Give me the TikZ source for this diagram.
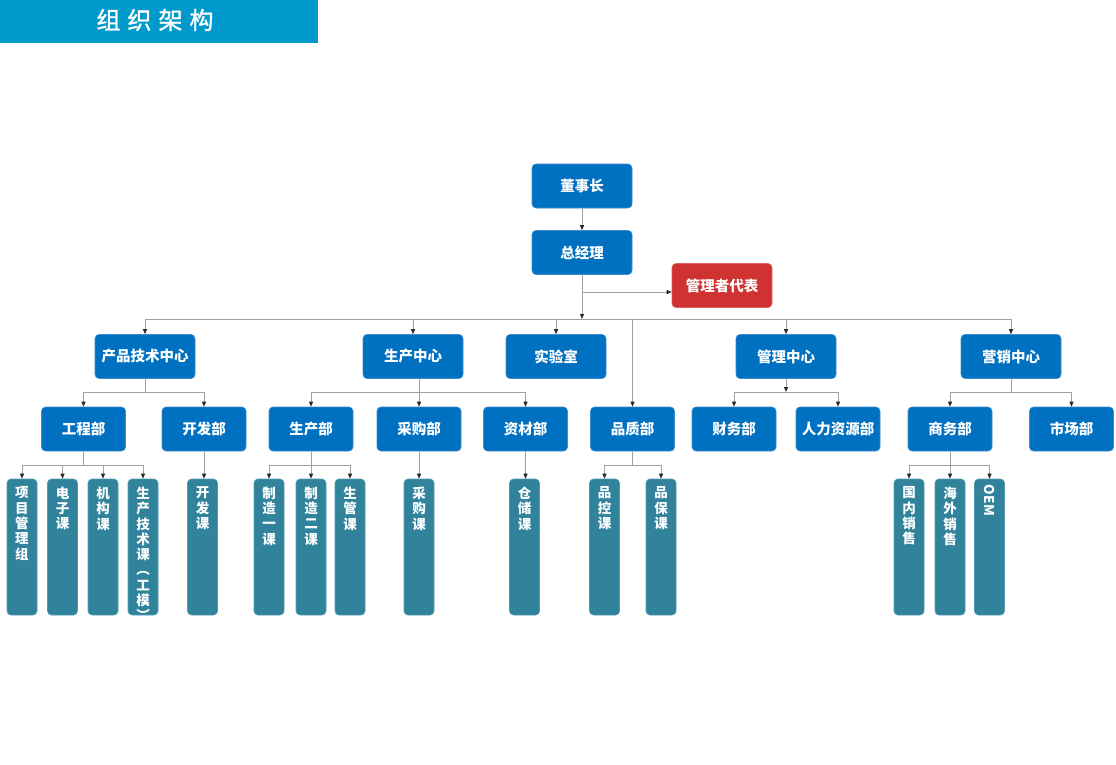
\documentclass[tikz,border=0pt]{standalone}
\usepackage{fontspec}
\setmainfont{Noto Sans CJK SC}
\newfontfamily\headfont[FakeBold=1.3]{Noto Sans CJK SC}
\usetikzlibrary{arrows.meta}
\definecolor{headblue}{RGB}{0,153,204}
\definecolor{boxblue}{RGB}{0,112,192}
\definecolor{boxedge}{RGB}{60,140,210}
\definecolor{leafteal}{RGB}{49,131,156}
\definecolor{leafedge}{RGB}{80,155,178}
\definecolor{redbox}{RGB}{208,50,50}
\definecolor{rededge}{RGB}{225,95,95}
\definecolor{linegray}{RGB}{160,160,160}
\definecolor{tipgray}{RGB}{40,40,40}
\begin{document}
\begin{tikzpicture}[x=1pt,y=-1pt,
  box/.style={rectangle, rounded corners=4pt, fill=boxblue, draw=boxedge, line width=0.6pt,
    text=white, font=\fontsize{14.5}{16}\selectfont\bfseries, inner sep=0pt},
  lvtop/.style={box, minimum width=100pt, minimum height=44pt},
  lvtwo/.style={box, minimum width=100pt, minimum height=44pt},
  lvthree/.style={box, minimum width=84pt, minimum height=44pt},
  redstyle/.style={box, fill=redbox, draw=rededge, minimum width=100pt, minimum height=44pt},
  leaf/.style={rectangle, rounded corners=4pt, fill=leafteal, draw=leafedge, line width=0.6pt,
    minimum width=30pt, minimum height=136pt, inner sep=0pt},
  leaftext/.style={text=white, font=\fontsize{13.5}{15.3}\selectfont\bfseries, align=center, inner sep=0pt},
  conn/.style={draw=linegray, line width=0.9pt},
  arr/.style={conn, -{Triangle[length=5pt,width=4pt,color=tipgray]}},
]
\useasboundingbox (0,0) rectangle (1116,765);
\fill[white] (0,0) rectangle (1116,765);
% header
\fill[headblue] (0,0) rectangle (318,43);
\node[font=\fontsize{24}{28}\selectfont\headfont, text=white, inner sep=0pt] (title) at (155,20) {组\hspace{7pt}织\hspace{7pt}架\hspace{7pt}构};

% top
\node[lvtop] (ds) at (582,186) {董事长};
\node[lvtop] (zjl) at (582,252.5) {总经理};
\node[redstyle] (glz) at (722,285.5) {管理者代表};

% level 2
\node[lvtwo] (cp) at (145,356.5) {产品技术中心};
\node[lvtwo] (sc) at (413,356.5) {生产中心};
\node[lvtwo] (sys) at (556,356.5) {实验室};
\node[lvtwo] (gl) at (786,356.5) {管理中心};
\node[lvtwo] (yx) at (1011,356.5) {营销中心};

% level 3
\node[lvthree] (gc) at (83.5,429) {工程部};
\node[lvthree] (kf) at (204,429) {开发部};
\node[lvthree] (scb) at (311,429) {生产部};
\node[lvthree] (cg) at (419,429) {采购部};
\node[lvthree] (zc) at (525.5,429) {资材部};
\node[lvthree] (pz) at (632.5,429) {品质部};
\node[lvthree] (cw) at (734,429) {财务部};
\node[lvthree] (rl) at (838,429) {人力资源部};
\node[lvthree] (sw) at (950,429) {商务部};
\node[lvthree] (scc) at (1071.5,429) {市场部};

% level 4
\tikzset{lt/.style={leaftext, anchor=north, yshift=-8pt}}
\node[leaf, label={[lt]north:{项\\目\\管\\理\\组}}] (p1) at (22,547) {};
\node[leaf, label={[lt]north:{电\\子\\课}}] (p2) at (62.5,547) {};
\node[leaf, label={[lt]north:{机\\构\\课}}] (p3) at (103,547) {};
\node[leaf, label={[lt]north:{生\\产\\技\\术\\课\\︵\\工\\模\\︶}}] (p4) at (143,547) {};
\node[leaf, label={[lt]north:{开\\发\\课}}] (kfk) at (202.5,547) {};
\node[leaf, label={[lt]north:{制\\造\\一\\课}}] (m1) at (269,547) {};
\node[leaf, label={[lt]north:{制\\造\\二\\课}}] (m2) at (311,547) {};
\node[leaf, label={[lt]north:{生\\管\\课}}] (m3) at (350,547) {};
\node[leaf, label={[lt]north:{采\\购\\课}}] (cgk) at (419,547) {};
\node[leaf, label={[lt]north:{仓\\储\\课}}] (cck) at (524.5,547) {};
\node[leaf, label={[lt]north:{品\\控\\课}}] (pk) at (604.5,547) {};
\node[leaf, label={[lt]north:{品\\保\\课}}] (pb) at (661,547) {};
\node[leaf, label={[lt]north:{国\\内\\销\\售}}] (gn) at (909,547) {};
\node[leaf, label={[lt]north:{海\\外\\销\\售}}] (hw) at (950,547) {};
\node[leaf] (oem) at (989.5,547) {};
\node[leaftext, rotate=-90, anchor=west] (oemt) at ([yshift=-6pt]oem.north) {OEM};

% coordinates
\coordinate (b1) at (582,319);
\coordinate (j1) at (582,292);
\coordinate (b2) at (0,392);
\coordinate (b3) at (0,465);

% top connectors
\draw[arr] (ds) -- (zjl);
\draw[arr] (zjl) -- (b1);
\draw[arr] (j1) -- (j1 -| glz.west);
\draw[conn] (cp.north |- b1) -- (yx.north |- b1);
\foreach \n in {cp,sc,sys,gl,yx,pz} \draw[arr] (\n.north |- b1) -- (\n.north);

% level 2 -> 3
\draw[conn] (cp) -- (cp.south |- b2);
\draw[conn] (gc.north |- b2) -- (kf.north |- b2);
\foreach \n in {gc,kf} \draw[arr] (\n.north |- b2) -- (\n.north);
\draw[arr] (cg.north |- sc.south) -- (cg.north);
\draw[conn] (scb.north |- b2) -- (zc.north |- b2);
\foreach \n in {scb,zc} \draw[arr] (\n.north |- b2) -- (\n.north);
\draw[arr] (gl) -- (gl.south |- b2);
\draw[conn] (cw.north |- b2) -- (rl.north |- b2);
\foreach \n in {cw,rl} \draw[arr] (\n.north |- b2) -- (\n.north);
\draw[conn] (yx) -- (yx.south |- b2);
\draw[conn] (sw.north |- b2) -- (scc.north |- b2);
\foreach \n in {sw,scc} \draw[arr] (\n.north |- b2) -- (\n.north);

% level 3 -> 4
\draw[conn] (gc) -- (gc.south |- b3);
\draw[conn] (p1.north |- b3) -- (p4.north |- b3);
\foreach \n in {p1,p2,p3,p4} \draw[arr] (\n.north |- b3) -- (\n.north);
\draw[arr] (kf.south) -- (kf.south |- kfk.north);
\draw[conn] (scb) -- (scb.south |- b3);
\draw[conn] (m1.north |- b3) -- (m3.north |- b3);
\foreach \n in {m1,m2,m3} \draw[arr] (\n.north |- b3) -- (\n.north);
\draw[arr] (cg.south) -- (cg.south |- cgk.north);
\draw[arr] (zc.south) -- (zc.south |- cck.north);
\draw[conn] (pz) -- (pz.south |- b3);
\draw[conn] (pk.north |- b3) -- (pb.north |- b3);
\foreach \n in {pk,pb} \draw[arr] (\n.north |- b3) -- (\n.north);
\draw[conn] (sw) -- (sw.south |- b3);
\draw[conn] (gn.north |- b3) -- (oem.north |- b3);
\foreach \n in {gn,hw,oem} \draw[arr] (\n.north |- b3) -- (\n.north);
\end{tikzpicture}
\end{document}
